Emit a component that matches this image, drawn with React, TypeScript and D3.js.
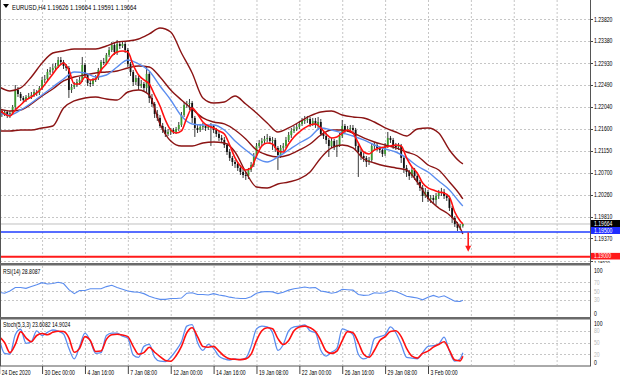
import React from "react";
import * as d3 from "d3";

// ---------------- DATA ----------------
const chartTitle = "EURUSD,H4  1.19626 1.19664 1.19591 1.19664";
const rsiTitle = "RSI(14) 28.8087";
const stochTitle = "Stoch(5,3,3) 23.6082 14.9024";

const timeLabels = ["24 Dec 2020", "30 Dec 00:00", "4 Jan 16:00", "7 Jan 08:00", "12 Jan 00:00", "14 Jan 16:00", "19 Jan 08:00", "22 Jan 00:00", "26 Jan 16:00", "29 Jan 08:00", "3 Feb 00:00"];
const barsPerLabel = 16;

const priceTicks = [1.2382, 1.2338, 1.2293, 1.2249, 1.2204, 1.216, 1.2115, 1.207, 1.2026, 1.1981, 1.1937, 1.1892];
const priceTickLabels = ["1.23820", "1.23380", "1.22930", "1.22490", "1.22040", "1.21600", "1.21150", "1.20700", "1.20260", "1.19810", "1.19370", "1.18920"];

const bidPrice = 1.19664;
const supportLevel = 1.195;
const targetLevel = 1.19;
const arrowBar = 175;
const arrowFrom = 1.1949;
const arrowTo = 1.191;

const candleOpen = [
  1.2202, 1.21959, 1.21898, 1.21938, 1.21857, 1.21918, 1.2204, 1.22385, 1.22304, 1.22223,
  1.22182, 1.22243, 1.22263, 1.22283, 1.22344, 1.22324, 1.22426, 1.22588, 1.22608, 1.2275,
  1.22791, 1.22832, 1.22872, 1.22994, 1.22953, 1.22872, 1.22832, 1.22385, 1.22446, 1.22486,
  1.22547, 1.22588, 1.22892, 1.22689, 1.22527, 1.22507, 1.22588, 1.22629, 1.22791, 1.22953,
  1.22933, 1.23096, 1.23197, 1.23298, 1.23156, 1.23319, 1.23278, 1.23319, 1.23197, 1.22913,
  1.2275, 1.22547, 1.22629, 1.22466, 1.22507, 1.22426, 1.2271, 1.22223, 1.22101, 1.21898,
  1.21817, 1.21654, 1.21573, 1.21492, 1.21532, 1.21573, 1.21532, 1.21593, 1.21674, 1.21877,
  1.2208, 1.22101, 1.22121, 1.21817, 1.21614, 1.21573, 1.21634, 1.21654, 1.21614, 1.21634,
  1.21654, 1.21573, 1.21492, 1.21411, 1.2137, 1.21268, 1.21126, 1.21005, 1.20923, 1.20883,
  1.20802, 1.2072, 1.20659, 1.20639, 1.20761, 1.20862, 1.21045, 1.21248, 1.21309, 1.2135,
  1.2139, 1.21411, 1.2135, 1.2137, 1.21208, 1.21065, 1.21208, 1.21248, 1.2137, 1.21471,
  1.21553, 1.21593, 1.21634, 1.21695, 1.21756, 1.21776, 1.21796, 1.21695, 1.21756, 1.21674,
  1.21735, 1.21492, 1.21451, 1.2137, 1.21248, 1.2135, 1.21228, 1.21268, 1.21451, 1.21654,
  1.21573, 1.21593, 1.21614, 1.21573, 1.21248, 1.21126, 1.21045, 1.21005, 1.20923, 1.20964,
  1.21248, 1.21268, 1.21208, 1.21167, 1.21086, 1.21248, 1.21411, 1.2137, 1.21248, 1.21228,
  1.21248, 1.21005, 1.20802, 1.2072, 1.20639, 1.20761, 1.20639, 1.20517, 1.20396, 1.20233,
  1.20314, 1.20172, 1.20193, 1.20152, 1.20233, 1.20294, 1.20314, 1.20233, 1.20193, 1.1999,
  1.19787, 1.19665, 1.19584, 1.19626
];
const candleHigh = [
  1.2206, 1.21999, 1.21979, 1.21979, 1.21959, 1.2208, 1.22486, 1.22446, 1.22344, 1.22263,
  1.22283, 1.22324, 1.22344, 1.22405, 1.22385, 1.22466, 1.22649, 1.22689, 1.22811, 1.22852,
  1.22913, 1.22933, 1.23055, 1.23055, 1.22994, 1.22913, 1.22872, 1.22507, 1.22547, 1.22608,
  1.22649, 1.23055, 1.22933, 1.2273, 1.22588, 1.22629, 1.22689, 1.22832, 1.22994, 1.23035,
  1.23136, 1.23258, 1.23359, 1.23339, 1.234, 1.23359, 1.2338, 1.23359, 1.23238, 1.22953,
  1.22791, 1.22689, 1.22669, 1.22588, 1.22547, 1.22852, 1.2275, 1.22304, 1.22141, 1.21979,
  1.21877, 1.21715, 1.21634, 1.21593, 1.21614, 1.21614, 1.21634, 1.21735, 1.21938, 1.22141,
  1.22162, 1.22202, 1.22162, 1.21857, 1.21674, 1.21695, 1.21715, 1.21695, 1.21674, 1.21715,
  1.21674, 1.21614, 1.21553, 1.21471, 1.21431, 1.21309, 1.21187, 1.21045, 1.20964, 1.20923,
  1.20862, 1.20781, 1.2072, 1.20802, 1.20923, 1.21106, 1.21309, 1.2137, 1.21411, 1.21451,
  1.21492, 1.21451, 1.21431, 1.21411, 1.21248, 1.21268, 1.21309, 1.21431, 1.21532, 1.21614,
  1.21654, 1.21695, 1.21756, 1.21817, 1.21857, 1.21857, 1.21837, 1.21817, 1.21817, 1.21837,
  1.21796, 1.21553, 1.21512, 1.21411, 1.21411, 1.2139, 1.2137, 1.21512, 1.21776, 1.21695,
  1.21654, 1.21674, 1.21674, 1.21614, 1.21309, 1.21187, 1.21106, 1.21045, 1.21025, 1.21309,
  1.21329, 1.21309, 1.21248, 1.21208, 1.21309, 1.21532, 1.21451, 1.21411, 1.21309, 1.21309,
  1.21289, 1.21045, 1.20862, 1.20761, 1.20822, 1.20802, 1.207, 1.20558, 1.20456, 1.20396,
  1.20355, 1.20253, 1.20253, 1.20294, 1.20355, 1.20396, 1.20375, 1.20274, 1.20233, 1.2003,
  1.19827, 1.19705, 1.19665, 1.19664
];
const candleLow = [
  1.21898, 1.21837, 1.21857, 1.21817, 1.21817, 1.21877, 1.21979, 1.22243, 1.22162, 1.22121,
  1.22141, 1.22202, 1.22202, 1.22243, 1.22263, 1.22283, 1.22385, 1.22527, 1.22568, 1.22689,
  1.2273, 1.22791, 1.22832, 1.22892, 1.22811, 1.22771, 1.22223, 1.22324, 1.22405, 1.22446,
  1.22486, 1.22547, 1.22629, 1.22466, 1.22446, 1.22466, 1.22547, 1.22588, 1.2275, 1.22892,
  1.22913, 1.23055, 1.23156, 1.23096, 1.23096, 1.23217, 1.23238, 1.23136, 1.22852, 1.22669,
  1.22466, 1.22486, 1.22385, 1.22426, 1.22344, 1.22324, 1.22121, 1.2204, 1.21817, 1.21756,
  1.21614, 1.21512, 1.21431, 1.21451, 1.21471, 1.21492, 1.21492, 1.21553, 1.21634, 1.21837,
  1.2202, 1.21979, 1.21715, 1.21431, 1.21512, 1.21532, 1.21573, 1.21553, 1.21573, 1.21248,
  1.21512, 1.21431, 1.2135, 1.21309, 1.21208, 1.21065, 1.20944, 1.20842, 1.20802, 1.20741,
  1.20659, 1.20599, 1.20558, 1.20578, 1.2072, 1.20822, 1.21005, 1.21208, 1.21248, 1.21309,
  1.21329, 1.21289, 1.21167, 1.21126, 1.20761, 1.21005, 1.21147, 1.21208, 1.21329, 1.21411,
  1.21512, 1.21553, 1.21593, 1.21654, 1.21695, 1.21715, 1.21634, 1.21654, 1.21614, 1.21573,
  1.21451, 1.2139, 1.21289, 1.21025, 1.21208, 1.21167, 1.21025, 1.21228, 1.21411, 1.21512,
  1.21532, 1.21532, 1.21492, 1.21167, 1.20619, 1.20964, 1.20923, 1.20822, 1.20862, 1.20923,
  1.21167, 1.21147, 1.21106, 1.21025, 1.21045, 1.21208, 1.21309, 1.21187, 1.21167, 1.21167,
  1.20903, 1.207, 1.20619, 1.20558, 1.20599, 1.20558, 1.20456, 1.20335, 1.20111, 1.20193,
  1.20111, 1.20091, 1.20071, 1.2005, 1.20172, 1.20233, 1.20172, 1.20132, 1.19929, 1.19685,
  1.19604, 1.19523, 1.19543, 1.19591
];
const candleClose = [
  1.21959, 1.21898, 1.21938, 1.21857, 1.21918, 1.2204, 1.22385, 1.22304, 1.22223, 1.22182,
  1.22243, 1.22263, 1.22283, 1.22344, 1.22324, 1.22426, 1.22588, 1.22608, 1.2275, 1.22791,
  1.22832, 1.22872, 1.22994, 1.22953, 1.22872, 1.22832, 1.22385, 1.22446, 1.22486, 1.22547,
  1.22588, 1.22892, 1.22689, 1.22527, 1.22507, 1.22588, 1.22629, 1.22791, 1.22953, 1.22933,
  1.23096, 1.23197, 1.23298, 1.23156, 1.23319, 1.23278, 1.23319, 1.23197, 1.22913, 1.2275,
  1.22547, 1.22629, 1.22466, 1.22507, 1.22426, 1.2271, 1.22223, 1.22101, 1.21898, 1.21817,
  1.21654, 1.21573, 1.21492, 1.21532, 1.21573, 1.21532, 1.21593, 1.21674, 1.21877, 1.2208,
  1.22101, 1.22121, 1.21817, 1.21614, 1.21573, 1.21634, 1.21654, 1.21614, 1.21634, 1.21654,
  1.21573, 1.21492, 1.21411, 1.2137, 1.21268, 1.21126, 1.21005, 1.20923, 1.20883, 1.20802,
  1.2072, 1.20659, 1.20639, 1.20761, 1.20862, 1.21045, 1.21248, 1.21309, 1.2135, 1.2139,
  1.21411, 1.2135, 1.2137, 1.21208, 1.21065, 1.21208, 1.21248, 1.2137, 1.21471, 1.21553,
  1.21593, 1.21634, 1.21695, 1.21756, 1.21776, 1.21796, 1.21695, 1.21756, 1.21674, 1.21735,
  1.21492, 1.21451, 1.2137, 1.21248, 1.2135, 1.21228, 1.21268, 1.21451, 1.21654, 1.21573,
  1.21593, 1.21614, 1.21573, 1.21248, 1.21126, 1.21045, 1.21005, 1.20923, 1.20964, 1.21248,
  1.21268, 1.21208, 1.21167, 1.21086, 1.21248, 1.21411, 1.2137, 1.21248, 1.21228, 1.21248,
  1.21005, 1.20802, 1.2072, 1.20639, 1.20761, 1.20639, 1.20517, 1.20396, 1.20233, 1.20314,
  1.20172, 1.20193, 1.20152, 1.20233, 1.20294, 1.20314, 1.20233, 1.20193, 1.1999, 1.19787,
  1.19665, 1.19584, 1.19624, 1.19664
];

// Bollinger bands (dark red) and blue MA, sampled every 4 bars (+ last bar)
const bbUpper = [
  1.22446, 1.22365, 1.22426, 1.22649, 1.22933, 1.23136, 1.23177, 1.23217, 1.23217, 1.23217,
  1.23278, 1.23359, 1.2338, 1.2342, 1.23522, 1.23644, 1.23563, 1.23136, 1.2273, 1.22223,
  1.22121, 1.22141, 1.22263, 1.22101, 1.21918, 1.21715, 1.21532, 1.21614, 1.21735, 1.21857,
  1.21938, 1.21959, 1.21877, 1.21837, 1.21817, 1.21735, 1.21614, 1.21532, 1.21451, 1.21593,
  1.21614, 1.21512, 1.21167, 1.20923, 1.20883
];
const bbMiddle = [
  1.21999, 1.21959, 1.21979, 1.22101, 1.22263, 1.22405, 1.22568, 1.22649, 1.22689, 1.2273,
  1.2275, 1.22771, 1.22832, 1.22872, 1.22852, 1.22649, 1.22385, 1.22182, 1.21999, 1.21817,
  1.21735, 1.21695, 1.21573, 1.2139, 1.21167, 1.21065, 1.21025, 1.21065, 1.21167, 1.21289,
  1.21471, 1.21573, 1.21573, 1.21512, 1.21411, 1.21329, 1.21268, 1.21208, 1.21126, 1.21045,
  1.20862, 1.20761, 1.20517, 1.20253, 1.20172
];
const bbLower = [
  1.21553, 1.21553, 1.21573, 1.21573, 1.21614, 1.21654, 1.2202, 1.22162, 1.22223, 1.22243,
  1.22202, 1.22182, 1.22344, 1.22385, 1.22283, 1.21695, 1.2135, 1.21248, 1.21248, 1.21309,
  1.21329, 1.21309, 1.21126, 1.2072, 1.20416, 1.20396, 1.20477, 1.20517, 1.20578, 1.2072,
  1.21005, 1.21208, 1.21268, 1.21208, 1.20984, 1.20903, 1.20842, 1.20802, 1.20761, 1.20517,
  1.20193, 1.1999, 1.19847, 1.19584, 1.19462
];
const blueMA = [
  1.21918, 1.21877, 1.21979, 1.22121, 1.22283, 1.22446, 1.22608, 1.2275, 1.2273, 1.22649,
  1.22689, 1.22852, 1.22994, 1.22913, 1.22771, 1.22466, 1.22182, 1.21857, 1.21695, 1.21674,
  1.21674, 1.21573, 1.2135, 1.21167, 1.21005, 1.20923, 1.21025, 1.21167, 1.21309, 1.21431,
  1.21614, 1.21573, 1.21512, 1.21451, 1.2137, 1.21268, 1.21187, 1.21126, 1.21005, 1.20842,
  1.2072, 1.20538, 1.20355, 1.20091, 1.2003
];
// red fast MA, sampled every 2 bars (+ last bar)
const redMA = [
  1.21979, 1.21898, 1.21857, 1.21979, 1.2208, 1.22182, 1.22243, 1.22324, 1.22426, 1.22568,
  1.2271, 1.22852, 1.22933, 1.22791, 1.22507, 1.22507, 1.22649, 1.22588, 1.22608, 1.22791,
  1.22913, 1.23075, 1.23156, 1.23177, 1.23156, 1.22892, 1.22689, 1.22588, 1.22507, 1.22283,
  1.2206, 1.21776, 1.21573, 1.21512, 1.21553, 1.21817, 1.2202, 1.21898, 1.21735, 1.21654,
  1.21614, 1.21553, 1.21492, 1.21268, 1.21005, 1.20842, 1.20761, 1.20802, 1.21045, 1.21248,
  1.21309, 1.21289, 1.21147, 1.21126, 1.21289, 1.21431, 1.21532, 1.21614, 1.21674, 1.21695,
  1.21614, 1.21492, 1.21411, 1.21431, 1.21512, 1.21573, 1.21512, 1.21309, 1.21126, 1.21086,
  1.21167, 1.21208, 1.21228, 1.21248, 1.21268, 1.21248, 1.21005, 1.20822, 1.207, 1.20497,
  1.20396, 1.20355, 1.20314, 1.20294, 1.20213, 1.19908, 1.19726, 1.19665
];
// oscillators, sampled every 2 bars (+ last bar)
const rsiValues = [
  47, 45, 50, 58, 58, 56, 60, 64, 69, 66, 67, 70, 67, 53, 44, 51, 51, 55, 55, 55,
  60, 63, 58, 54, 50, 48, 47, 44, 38, 34, 31, 31, 33, 33, 34, 45, 46, 42, 42, 41,
  44, 41, 39, 36, 34, 33, 33, 37, 45, 48, 49, 48, 44, 47, 52, 55, 57, 59, 57, 58,
  50, 48, 45, 47, 54, 53, 52, 42, 40, 41, 46, 45, 46, 51, 49, 44, 38, 36, 34, 30,
  36, 40, 36, 39, 33, 27, 26, 28.8
];
const stochMain = [
  61, 22, 20, 70, 84, 48, 52, 80, 68, 76, 82, 79, 72, 35, 8, 40, 74, 54, 22, 24,
  68, 74, 74, 66, 61, 18, 12, 40, 45, 12, 2, 1, 12, 30, 52, 92, 96, 50, 30, 45,
  35, 15, 8, 5, 8, 6, 10, 40, 85, 92, 90, 75, 30, 45, 80, 90, 92, 95, 80, 75,
  30, 15, 25, 35, 85, 80, 70, 20, 8, 15, 60, 65, 70, 90, 75, 45, 12, 10, 8, 24,
  40, 42, 46, 64, 28, 2, 8, 23.6
];
const stochSignal = [
  65, 50, 24, 45, 78, 62, 52, 68, 73, 70, 76, 79, 78, 62, 25, 35, 65, 55, 27, 28,
  58, 70, 71, 69, 65, 40, 20, 24, 38, 25, 14, 4, 2, 16, 40, 75, 88, 65, 40, 38,
  40, 28, 15, 8, 7, 6, 8, 20, 55, 80, 88, 85, 60, 45, 55, 80, 90, 92, 88, 78,
  55, 28, 22, 28, 55, 78, 75, 50, 20, 12, 30, 55, 65, 78, 80, 65, 35, 15, 10, 22,
  28, 38, 45, 52, 30, 5, 3, 14.9
];
const rsiLevels = [70, 50, 30];
const stochLevels = [80, 50, 20];

// ---------------- LAYOUT ----------------
const W = 620;
const H = 382;
const plotRight = 590;
const mainTop = 0;
const mainBottom = 263;
const rsiTop = 266;
const rsiBottom = 317;
const stTop = 320;
const stBottom = 365;

const lastBar = candleClose.length - 1;
const idx4 = [...d3.range(0, lastBar, 4), lastBar];
const idx2 = [...d3.range(0, lastBar, 2), lastBar];

const x = d3.scaleLinear().domain([0, 160]).range([-0.8, 428]);
const yP = d3.scaleLinear().domain([1.2382, 1.19]).range([19.3, 256.7]);
const yR = d3.scaleLinear().domain([0, 100]).range([313, 269]);
const yS = d3.scaleLinear().domain([0, 100]).range([362, 323]);

const gridColor = "#c6c6c6";
const FONT = "'Liberation Sans', Arial, sans-serif";

function Txt({ x: tx, y: ty, children, size = 7, fill = "#000", weight = 400 }: any) {
  return (
    <text
      transform={`translate(${tx},${ty}) scale(0.73,1)`}
      fontSize={size}
      fontFamily={FONT}
      fill={fill}
      fontWeight={weight}
    >
      {children}
    </text>
  );
}

function seriesLine(idx: number[], vals: number[], ys: any, curve: any) {
  const pts = idx.map((b, k) => [x(b), ys(vals[k])] as [number, number]);
  return d3.line().curve(curve)(pts) || "";
}

export default function App() {
  const tickBars = d3.range(0, 14).map((k) => k * barsPerLabel);

  const upperPath = seriesLine(idx4, bbUpper, yP, d3.curveMonotoneX);
  const middlePath = seriesLine(idx4, bbMiddle, yP, d3.curveMonotoneX);
  const lowerPath = seriesLine(idx4, bbLower, yP, d3.curveMonotoneX);
  const bluePath = seriesLine(idx4, blueMA, yP, d3.curveMonotoneX);
  const redPath = seriesLine(idx2, redMA, yP, d3.curveMonotoneX);
  const rsiPath = seriesLine(idx2, rsiValues, yR, d3.curveLinear);
  const kPath = seriesLine(idx2, stochMain, yS, d3.curveMonotoneX);
  const dPath = seriesLine(idx2, stochSignal, yS, d3.curveMonotoneX);

  const ax = x(arrowBar);
  const labelTicks = priceTicks.slice(0, priceTicks.length - 1);
  const lowestTick = priceTicks[priceTicks.length - 1];

  return (
    <div style={{ position: "absolute", left: 0, top: 0, width: W, height: H, background: "#fff" }}>
      <svg width={W} height={H} style={{ display: "block" }}>
        <defs>
          <clipPath id="clipMain">
            <rect x={0} y={mainTop} width={plotRight} height={mainBottom - mainTop} />
          </clipPath>
          <clipPath id="clipRsi">
            <rect x={0} y={rsiTop} width={plotRight} height={rsiBottom - rsiTop} />
          </clipPath>
          <clipPath id="clipSt">
            <rect x={0} y={stTop} width={plotRight} height={stBottom - stTop} />
          </clipPath>
          <clipPath id="clipAxisLow">
            <rect x={590} y={260} width={30} height={mainBottom - 260} />
          </clipPath>
        </defs>
        <rect x={0} y={0} width={W} height={H} fill="#fff" />

        {/* vertical grid in all panels */}
        {tickBars.map((b) => (
          <g key={"vg" + b}>
            <line x1={x(b) + 0.5} x2={x(b) + 0.5} y1={mainTop} y2={mainBottom} stroke={gridColor} strokeDasharray="2,2" />
            <line x1={x(b) + 0.5} x2={x(b) + 0.5} y1={rsiTop} y2={rsiBottom} stroke={gridColor} strokeDasharray="2,2" />
            <line x1={x(b) + 0.5} x2={x(b) + 0.5} y1={stTop} y2={stBottom} stroke={gridColor} strokeDasharray="2,2" />
          </g>
        ))}
        {/* horizontal grid main */}
        {priceTicks.map((p) => (
          <line key={"hg" + p} x1={0} x2={plotRight} y1={Math.round(yP(p)) + 0.5} y2={Math.round(yP(p)) + 0.5} stroke={gridColor} strokeDasharray="2,2" />
        ))}
        {rsiLevels.map((v) => (
          <line key={"rl" + v} x1={0} x2={plotRight} y1={Math.round(yR(v)) + 0.5} y2={Math.round(yR(v)) + 0.5} stroke={gridColor} strokeDasharray="2,2" />
        ))}
        {stochLevels.map((v) => (
          <line key={"sl" + v} x1={0} x2={plotRight} y1={Math.round(yS(v)) + 0.5} y2={Math.round(yS(v)) + 0.5} stroke={gridColor} strokeDasharray="2,2" />
        ))}

        {/* main panel */}
        <g clipPath="url(#clipMain)">
          <line x1={0} x2={plotRight} y1={yP(bidPrice)} y2={yP(bidPrice)} stroke="#c0c0c0" strokeWidth={1} />
          {candleClose.map((c, i) => {
            const o = candleOpen[i];
            const up = c >= o;
            const cx = x(i);
            const yt = yP(Math.max(o, c));
            const yb = yP(Math.min(o, c));
            return (
              <g key={"c" + i}>
                <line x1={cx} x2={cx} y1={yP(candleHigh[i])} y2={yP(candleLow[i])} stroke="#222" strokeWidth={0.9} />
                <rect x={cx - 0.9} y={yt} width={1.8} height={Math.max(0.9, yb - yt)} fill={up ? "#3c9a2e" : "#111"} />
              </g>
            );
          })}
          <path d={upperPath} fill="none" stroke="#8b1414" strokeWidth={1.4} />
          <path d={middlePath} fill="none" stroke="#8b1414" strokeWidth={1.4} />
          <path d={lowerPath} fill="none" stroke="#8b1414" strokeWidth={1.4} />
          <path d={bluePath} fill="none" stroke="#5b8def" strokeWidth={1.4} />
          <path d={redPath} fill="none" stroke="#ff1010" strokeWidth={1.6} />
          <line x1={0} x2={plotRight} y1={yP(supportLevel)} y2={yP(supportLevel)} stroke="#1f3dff" strokeWidth={1.5} />
          <line x1={0} x2={plotRight} y1={yP(targetLevel)} y2={yP(targetLevel)} stroke="#ff1a1a" strokeWidth={2} />
          <line x1={ax} x2={ax} y1={yP(arrowFrom)} y2={yP(arrowTo) - 5} stroke="#ff1a1a" strokeWidth={1.6} />
          <path d={`M${ax - 3},${yP(arrowTo) - 6} L${ax + 3},${yP(arrowTo) - 6} L${ax},${yP(arrowTo)} Z`} fill="#ff1a1a" />
        </g>

        {/* RSI panel */}
        <g clipPath="url(#clipRsi)">
          <path d={rsiPath} fill="none" stroke="#5b8def" strokeWidth={1.1} />
        </g>
        {/* Stoch panel */}
        <g clipPath="url(#clipSt)">
          <path d={kPath} fill="none" stroke="#5b8def" strokeWidth={1.3} />
          <path d={dPath} fill="none" stroke="#ff1010" strokeWidth={1.6} />
        </g>

        {/* price axis labels */}
        {priceTicks.map((p) => (
          <line key={"pt" + p} x1={plotRight} x2={plotRight + 3} y1={Math.round(yP(p)) + 0.5} y2={Math.round(yP(p)) + 0.5} stroke="#444" />
        ))}
        {labelTicks.map((p, i) => (
          <Txt key={"pl" + p} x={594} y={yP(p) + 2.5}>{priceTickLabels[i]}</Txt>
        ))}
        {/* lowest label, partly hidden under the panel separator */}
        <g clipPath="url(#clipAxisLow)">
          <Txt x={594} y={265.2} size={6}>{priceTickLabels[priceTickLabels.length - 1]}</Txt>
        </g>
        {/* current price / level boxes */}
        <rect x={591} y={yP(bidPrice) - 4} width={29} height={7} fill="#000" />
        <Txt x={594} y={yP(bidPrice) + 2.3} fill="#fff">{bidPrice.toFixed(5)}</Txt>
        <rect x={591} y={yP(bidPrice) + 3} width={29} height={7} fill="#1f2dff" />
        <Txt x={594} y={yP(bidPrice) + 9.3} fill="#fff">{supportLevel.toFixed(5)}</Txt>
        <rect x={591} y={yP(targetLevel) - 3.8} width={29} height={6.6} fill="#ff1a1a" />
        <Txt x={594} y={yP(targetLevel) + 1.7} size={6.5} fill="#fff">{targetLevel.toFixed(5)}</Txt>

        {/* RSI axis */}
        <Txt x={594} y={272.8}>100</Txt>
        <Txt x={594} y={yR(0) + 2.5}>0</Txt>
        {rsiLevels.map((v) => (
          <Txt key={"rt" + v} x={594} y={yR(v) + 2.5} fill="#b8b8b8">{String(v)}</Txt>
        ))}
        {/* Stoch axis */}
        <Txt x={594} y={yS(100) + 2.5}>100</Txt>
        <Txt x={594} y={yS(0) + 2.5}>0</Txt>
        {stochLevels.map((v) => (
          <Txt key={"st" + v} x={594} y={yS(v) + 2.5} fill="#b8b8b8">{String(v)}</Txt>
        ))}

        {/* frames & separators */}
        <line x1={0.5} x2={0.5} y1={0} y2={stBottom + 1} stroke="#555" />
        <line x1={plotRight + 0.5} x2={plotRight + 0.5} y1={0} y2={stBottom + 1} stroke="#555" />
        <rect x={0} y={mainBottom} width={plotRight + 1} height={2.5} fill="#6a6a6a" />
        <rect x={0} y={rsiBottom} width={plotRight + 1} height={2.5} fill="#6a6a6a" />
        <line x1={0} x2={plotRight + 1} y1={stBottom + 1} y2={stBottom + 1} stroke="#555" />

        {/* time axis */}
        {timeLabels.map((t, k) => (
          <g key={"tl" + k}>
            <line x1={x(k * barsPerLabel) + 0.5} x2={x(k * barsPerLabel) + 0.5} y1={stBottom + 1} y2={stBottom + 9} stroke="#444" />
            <Txt x={x(k * barsPerLabel) + 2.5} y={375}>{t}</Txt>
          </g>
        ))}

        {/* titles */}
        <path d="M3,4 L9,4 L6,8 Z" fill="#000" />
        <Txt x={12} y={9.5} size={8}>{chartTitle}</Txt>
        <Txt x={3} y={274}>{rsiTitle}</Txt>
        <Txt x={3} y={327}>{stochTitle}</Txt>
      </svg>
    </div>
  );
}
